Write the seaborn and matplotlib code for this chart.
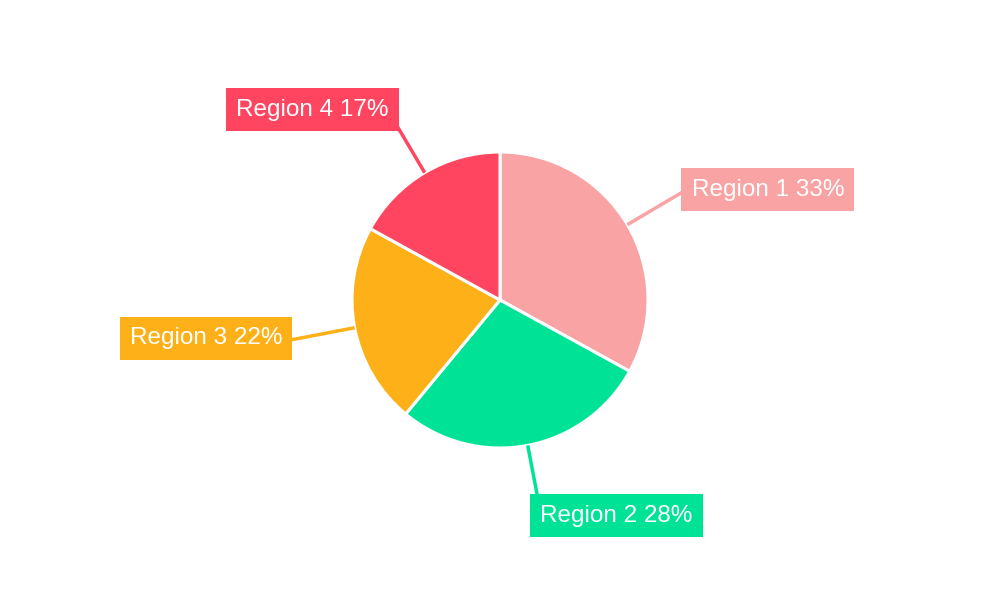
import numpy as np
import matplotlib.pyplot as plt
import seaborn as sns

labels = ["Region 1", "Region 2", "Region 3", "Region 4"]
shares = [33, 28, 22, 17]
colors = ["#F9A3A4", "#00E396", "#FEB019", "#FF4560"]

# label offsets from the leader line end (points): (dx, dy, ha)
label_offsets = [(10.9, 4.3, 'left'), (1.2, -10.2, 'left'),
                 (-11.8, 0.0, 'right'), (-5.2, 10.0, 'right')]

sns.set_theme(style="white")
plt.rcParams['font.family'] = ['Liberation Sans', 'DejaVu Sans']

fig = plt.figure(figsize=(10, 6), dpi=100)
ax = fig.add_axes([0, 0, 1, 1])

cx, cy, r = 500, 300, 148
ax.pie(shares, colors=colors, startangle=90, counterclock=False,
       center=(cx, cy), radius=r, frame=True,
       wedgeprops=dict(edgecolor='white', linewidth=2.2))
ax.set_xlim(0, 1000)
ax.set_ylim(0, 600)
ax.set_aspect('equal')
ax.axis('off')

# leader lines + boxed labels
total = sum(shares)
start = 0
r_end = 205
fs = 17.5
for lab, v, c, (dx, dy, ha) in zip(labels, shares, colors, label_offsets):
    mid = (start + v / 2) / total * 2 * np.pi
    start += v
    s, co = np.sin(mid), np.cos(mid)
    x0, y0 = cx + r * s, cy + r * co
    x1, y1 = cx + r_end * s, cy + r_end * co
    x2, y2 = cx + (r_end + 12) * s, cy + (r_end + 12) * co
    ax.plot([x0, x2], [y0, y2], color=c, lw=2.5, solid_capstyle='butt', zorder=1)
    ax.annotate(f"{lab} {v}%", xy=(x1, y1), xytext=(dx, dy),
                textcoords='offset points', ha=ha, va='center',
                fontsize=fs, color='white', zorder=3,
                bbox=dict(boxstyle='square,pad=0.42', fc=c, ec='none'))

fig.savefig("out.png", dpi=100)
